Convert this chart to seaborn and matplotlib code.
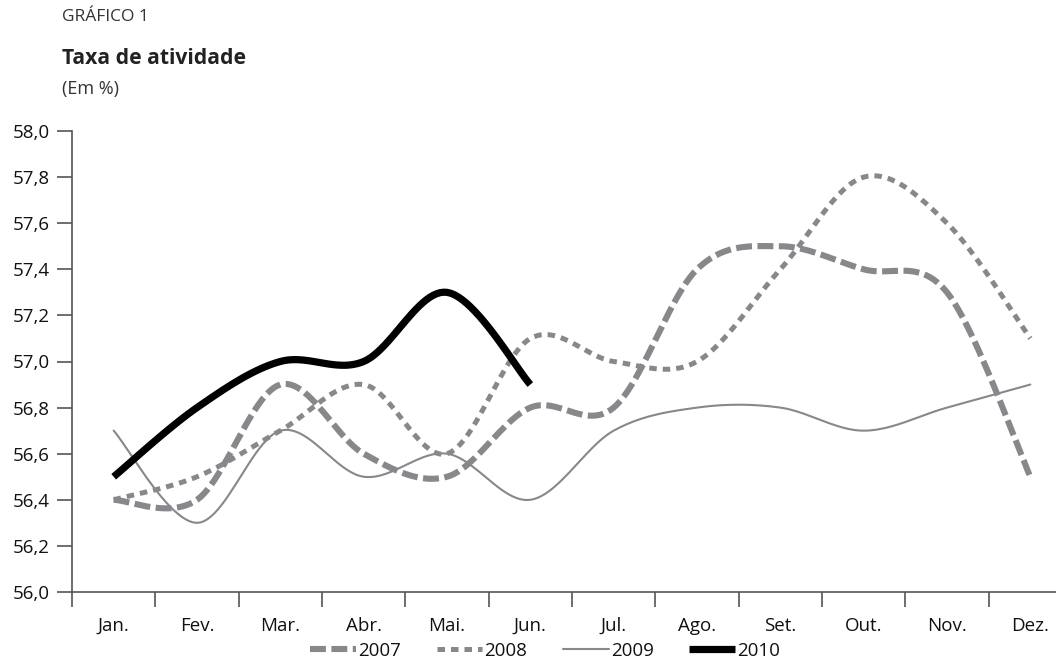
import numpy as np
import pandas as pd
import matplotlib
matplotlib.use("Agg")
import matplotlib.pyplot as plt
import seaborn as sns

# Taxa de atividade (%), by month
months = ["Jan.", "Fev.", "Mar.", "Abr.", "Mai.", "Jun.",
          "Jul.", "Ago.", "Set.", "Out.", "Nov.", "Dez."]
taxa_2007 = [56.4, 56.4, 56.9, 56.6, 56.5, 56.8, 56.8, 57.4, 57.5, 57.4, 57.3, 56.5]
taxa_2008 = [56.4, 56.5, 56.7, 56.9, 56.6, 57.1, 57.0, 57.0, 57.4, 57.8, 57.6, 57.1]
taxa_2009 = [56.7, 56.3, 56.7, 56.5, 56.6, 56.4, 56.7, 56.8, 56.8, 56.7, 56.8, 56.9]
taxa_2010 = [56.5, 56.8, 57.0, 57.0, 57.3, 56.9]
y_ticks = [56.0, 56.2, 56.4, 56.6, 56.8, 57.0, 57.2, 57.4, 57.6, 57.8, 58.0]

GRAY = "#88888c"


def smoothed(values, steps=24):
    """Smooth curve through the monthly points (cubic Bezier, Catmull-Rom tangents)."""
    y = np.asarray(values, dtype=float)
    x = np.arange(len(y), dtype=float)
    px = np.concatenate([[x[0]], x, [x[-1]]])
    py = np.concatenate([[y[0]], y, [y[-1]]])
    xs, ys = [], []
    for i in range(len(y) - 1):
        last = i == len(y) - 2
        t = np.linspace(0, 1, steps, endpoint=last)
        segs = []
        for p in (px, py):
            p0, p1, p2, p3 = p[i], p[i + 1], p[i + 2], p[i + 3]
            c1 = p1 + (p2 - p0) / 6.0
            c2 = p2 - (p3 - p1) / 6.0
            segs.append((1 - t) ** 3 * p1 + 3 * (1 - t) ** 2 * t * c1
                        + 3 * (1 - t) * t ** 2 * c2 + t ** 3 * p2)
        xs.append(segs[0])
        ys.append(segs[1])
    return np.concatenate(xs), np.concatenate(ys)


sns.set_theme(style="white")
plt.rcParams["font.family"] = ["Open Sans", "DejaVu Sans"]

fig = plt.figure(figsize=(10.56, 6.63), dpi=100)
ax = fig.add_axes([72 / 1056, 71 / 663, 1000 / 1056, 461 / 663])

series = [
    ("2007", taxa_2007, dict(color=GRAY, linewidth=4.4, linestyle=(0, (2.6, 0.9)),
                             solid_capstyle="butt", dash_capstyle="butt")),
    ("2008", taxa_2008, dict(color=GRAY, linewidth=3.6, linestyle=(0, (1.5, 1.2)),
                             dash_capstyle="butt")),
    ("2009", taxa_2009, dict(color=GRAY, linewidth=1.5, linestyle="-")),
    ("2010", taxa_2010, dict(color="black", linewidth=5.2, linestyle="-",
                             solid_capstyle="butt")),
]

for label, vals, style in series:
    sx, sy = smoothed(vals)
    df = pd.DataFrame({"x": sx, "y": sy})
    sns.lineplot(data=df, x="x", y="y", ax=ax, estimator=None, sort=False,
                 label=label, **style)

ax.set_xlim(-0.5, 11.5)
ax.set_ylim(56.0, 58.0)
ax.set_yticks(y_ticks)
ax.set_yticklabels([f"{v:.1f}".replace(".", ",") for v in y_ticks])
ax.set_xticks(range(len(months)))
ax.set_xticklabels(months)
ax.set_xticks(np.arange(-0.5, 12.0, 1.0), minor=True)
ax.set_xlabel("")
ax.set_ylabel("")

for side in ("top", "right"):
    ax.spines[side].set_visible(False)
for side in ("left", "bottom"):
    ax.spines[side].set_color("#555555")
    ax.spines[side].set_linewidth(1.2)

ax.tick_params(axis="y", which="major", direction="out", length=11, width=1.2,
               color="#555555", pad=5, labelsize=13.5, labelcolor="#111111", left=True)
ax.tick_params(axis="x", which="major", length=0, pad=18, labelsize=13.5,
               labelcolor="#111111", bottom=True)
ax.tick_params(axis="x", which="minor", direction="out", length=11, width=1.2,
               color="#555555", bottom=True)

ax.get_legend().remove()
handles, labels = ax.get_legend_handles_labels()
fig.legend(handles, labels, loc="center", bbox_to_anchor=(545 / 1056, 12 / 663),
           ncol=4, frameon=False, fontsize=13.5, handlelength=2.45,
           handletextpad=0.1, columnspacing=1.9, labelcolor="#111111")

fig.text(62 / 1056, 1 - 17 / 663, "GRÁFICO 1", fontsize=12.5, color="#333333",
         va="center", ha="left")
fig.text(62 / 1056, 1 - 58 / 663, "Taxa de atividade", fontsize=15.2, fontweight="bold",
         color="#222222", va="center", ha="left")
fig.text(62 / 1056, 1 - 89 / 663, "(Em %)", fontsize=13, color="#333333",
         va="center", ha="left")

fig.savefig("out.png", dpi=100)
